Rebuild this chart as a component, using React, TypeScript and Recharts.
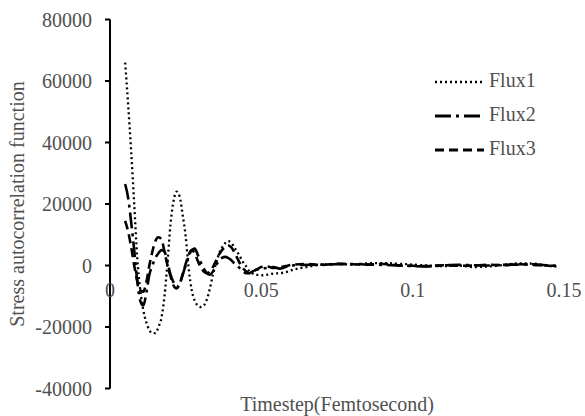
import React from 'react';
import { LineChart, Line, XAxis, YAxis, Legend } from 'recharts';

const TIME = [
  0.005, 0.006, 0.007, 0.008, 0.009, 0.010, 0.011, 0.012, 0.013, 0.014,
  0.015, 0.016, 0.017, 0.018, 0.019, 0.020, 0.021, 0.022, 0.023, 0.024,
  0.025, 0.026, 0.027, 0.028, 0.029, 0.030, 0.031, 0.032, 0.033, 0.034,
  0.035, 0.036, 0.037, 0.038, 0.039, 0.040, 0.041, 0.042, 0.043, 0.044,
  0.045, 0.046, 0.047, 0.048, 0.049, 0.050,
  0.052, 0.054, 0.056, 0.058, 0.060,
  0.065, 0.070, 0.075, 0.080, 0.085, 0.090, 0.095, 0.100, 0.105, 0.110,
  0.115, 0.120, 0.125, 0.130, 0.135, 0.140, 0.145, 0.148,
];

const FLUX1 = [
  66000, 52300, 37000, 20000, 2500, -8000, -14500, -18500, -21000, -22000,
  -22000, -20000, -17000, -10000, 1000, 13500, 21000, 24000, 22500, 16500,
  9500, -1000, -8000, -11500, -13000, -13500, -13000, -11000, -7500, -3000,
  500, 3800, 5800, 7200, 7900, 7500, 6000, 4500, 2800, 1000,
  -300, -1800, -2500, -3000, -3100, -3200,
  -3000, -2600, -2500, -2200, -1500,
  -500, 300, 500, 300, 700, 800, 600, 300, 0, -200,
  0, -500, -300, 200, 700, 600, -200, -300,
];

const FLUX2 = [
  26500, 22000, 14000, 5000, -5000, -11500, -13000, -9000, -3000, 0,
  2500, 4000, 5000, 4500, 1000, -3000, -5500, -7000, -6000, -3000,
  0, 3000, 5000, 5500, 3500, 1000, -1000, -2500, -3000, -2000,
  0, 1500, 2500, 2800, 2500, 1800, 800, 0, -1000, -2000,
  -2500, -2500, -2000, -1500, -1200, -1000,
  -800, -500, -1000, -500, 0,
  200, 300, 400, 500, 300, 200, 0, -200, -300, 0,
  200, 100, 0, 200, 300, 400, 0, -200,
];

const FLUX3 = [
  14500, 11000, 6000, 0, -5000, -8000, -8500, -5500, 0, 4500,
  8000, 9200, 8500, 4500, 0, -3500, -6500, -7500, -6000, -3000,
  500, 3500, 5000, 4000, 1500, -500, -2000, -2500, -2000, -500,
  1500, 3500, 5000, 6000, 6500, 6000, 4500, 2500, 500, -1000,
  -2000, -2500, -2000, -1500, -1000, -500,
  -300, -800, -600, -200, 200,
  500, 200, 600, 400, 300, 500, 100, -100, -200, 100,
  -100, 0, 200, 100, 400, 200, -100, -100,
];

const X_TICKS = [0, 0.05, 0.1, 0.15];
const Y_TICKS = [-40000, -20000, 0, 20000, 40000, 60000, 80000];

const SERIES = [
  { key: 'flux1', name: 'Flux1', dash: '2 3', width: 2.3 },
  { key: 'flux2', name: 'Flux2', dash: '16 5 3 5', width: 2.6 },
  { key: 'flux3', name: 'Flux3', dash: '9 5', width: 2.6 },
];

const data = TIME.map((t, i) => ({ t, flux1: FLUX1[i], flux2: FLUX2[i], flux3: FLUX3[i] }));

const FONT = '"Liberation Serif", "Times New Roman", serif';
const TEXT = '#505050';

const XTick = (props: any) => {
  const { x, y, payload } = props;
  return (
    <text x={x} y={y - 91.5} textAnchor="middle" fontFamily={FONT} fontSize={20} fill={TEXT}>
      {String(payload.value)}
    </text>
  );
};

const renderLegend = () => (
  <svg width={150} height={110} style={{ display: 'block' }}>
    {SERIES.map((s, i) => {
      const base = 22 + i * 34;
      return (
        <g key={s.key}>
          <line x1={5} x2={54} y1={base - 5} y2={base - 5} stroke="#000" strokeWidth={s.width + 0.4} strokeDasharray={s.dash} />
          <text x={59} y={base} fontFamily={FONT} fontSize={20} fill={TEXT}>{s.name}</text>
        </g>
      );
    })}
  </svg>
);

export default function App() {
  return (
    <div style={{ position: 'absolute', left: 0, top: 0 }}>
      <LineChart width={585} height={416} data={data} margin={{ top: 19.5, right: 21, bottom: 0, left: 0 }}>
        <XAxis
          dataKey="t"
          type="number"
          domain={[0, 0.15]}
          ticks={X_TICKS}
          axisLine={false}
          tickLine={false}
          tickSize={0}
          tickMargin={0}
          height={27.5}
          tick={<XTick />}
          interval={0}
          label={{
            content: (p: any) => {
              const vb = p.viewBox;
              return (
                <text x={vb.x + vb.width / 2} y={vb.y + 22} textAnchor="middle" fontFamily={FONT} fontSize={20} fill={TEXT}>
                  Timestep(Femtosecond)
                </text>
              );
            },
          }}
        />
        <YAxis
          type="number"
          domain={[-40000, 80000]}
          ticks={Y_TICKS}
          width={110}
          interval={0}
          axisLine={{ stroke: '#000', strokeWidth: 2 }}
          tickLine={{ stroke: '#000', strokeWidth: 2 }}
          tickSize={5}
          tickMargin={13}
          tick={{ fontFamily: FONT, fontSize: 20, fill: TEXT }}
          label={{
            content: (p: any) => {
              const vb = p.viewBox;
              const cx = 24;
              const cy = vb.y + vb.height / 2;
              return (
                <text x={cx} y={cy} transform={`rotate(-90, ${cx}, ${cy})`} textAnchor="middle" fontFamily={FONT} fontSize={20} fill={TEXT}>
                  Stress autocorrelation function
                </text>
              );
            },
          }}
        />
        <Legend
          layout="vertical"
          align="center"
          verticalAlign="middle"
          content={renderLegend}
          wrapperStyle={{ position: 'absolute', left: 430, top: 65, width: 150, height: 110 }}
        />
        {SERIES.map((s) => (
          <Line
            key={s.key}
            dataKey={s.key}
            name={s.name}
            type="monotone"
            stroke="#000"
            strokeWidth={s.width}
            strokeDasharray={s.dash}
            dot={false}
            activeDot={false}
            isAnimationActive={false}
          />
        ))}
      </LineChart>
    </div>
  );
}
